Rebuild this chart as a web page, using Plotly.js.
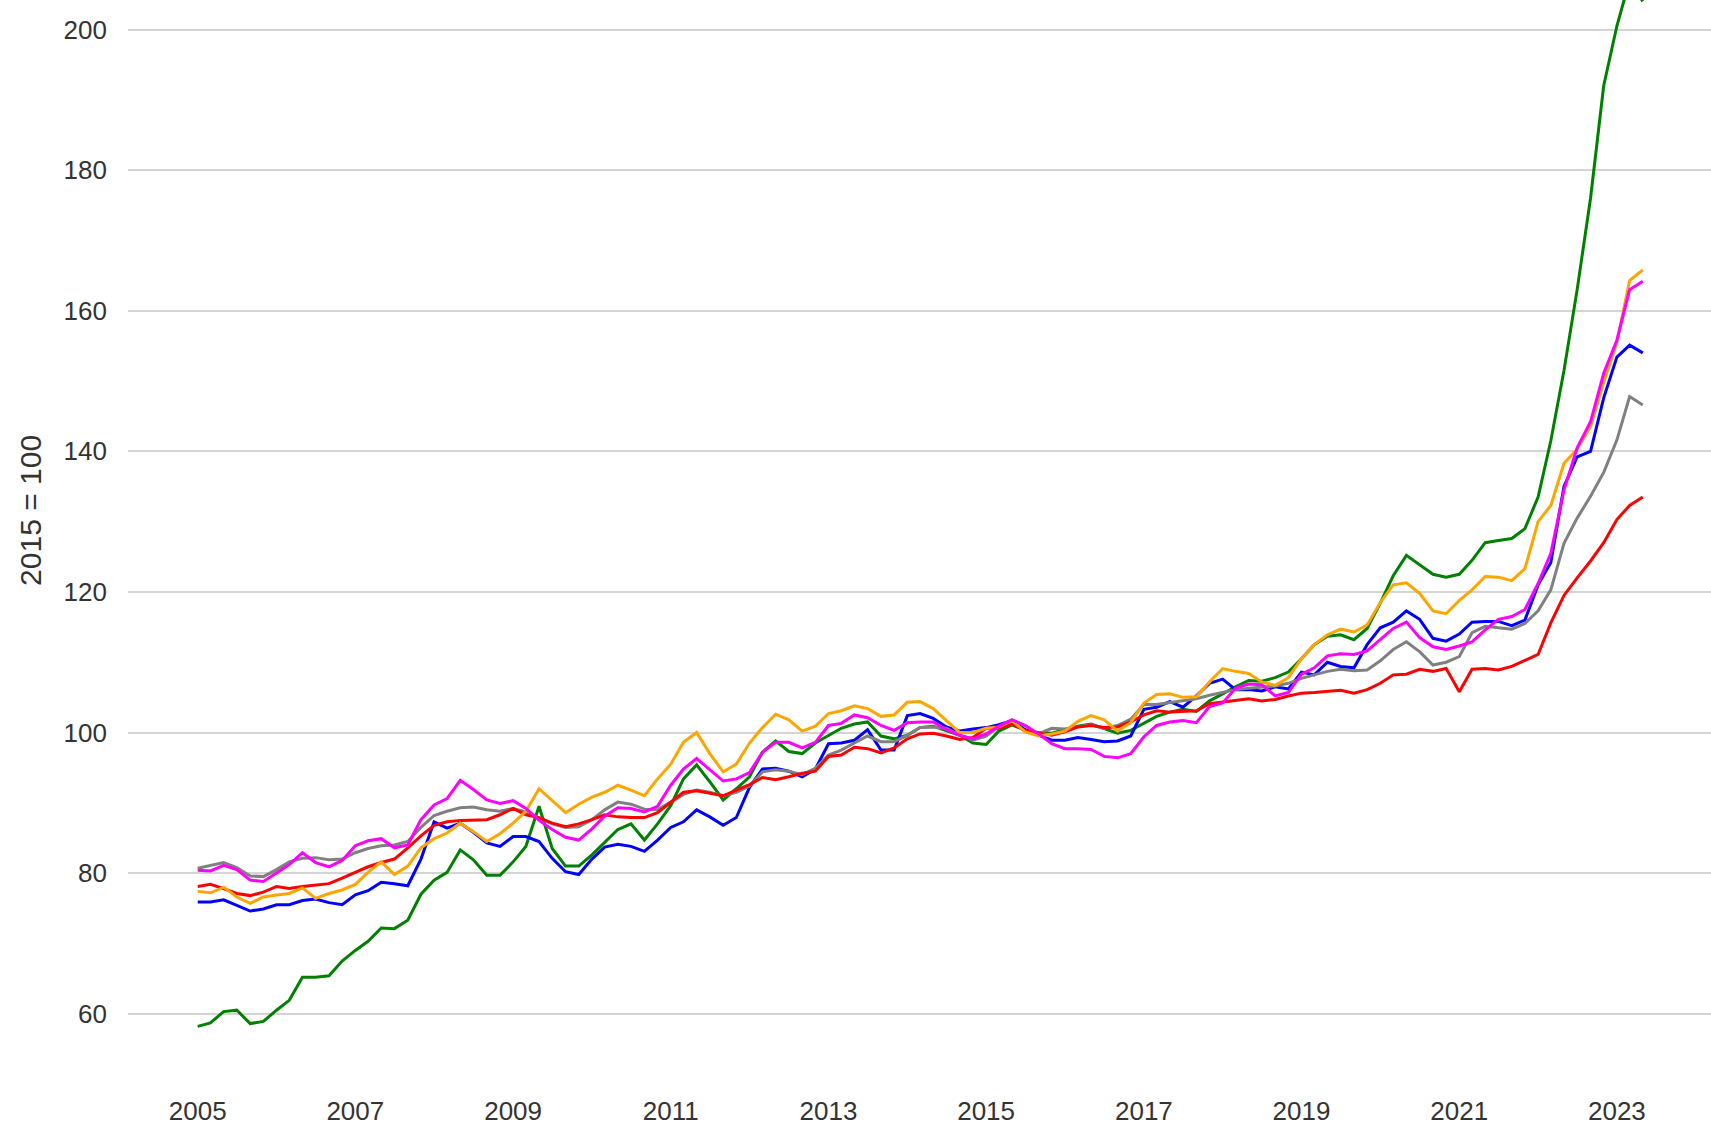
<!DOCTYPE html>
<html>
<head>
<meta charset="utf-8">
<script src="https://cdn.plot.ly/plotly-3.0.1.min.js"></script>
<style>
  html, body { margin: 0; padding: 0; background: #ffffff; }
  #chart { width: 1711px; height: 1127px; }
</style>
</head>
<body>
<div id="chart"></div>
<script>
// ---- Data (2015 = 100), bi-monthly readings Jan 2005 .. May 2023 ----
const years = [2005,2006,2007,2008,2009,2010,2011,2012,2013,2014,2015,2016,2017,2018,2019,2020,2021,2022,2023];
const months = ['01','03','05','07','09','11'];
const lastMonth = '2023-05';

const green = [
  58.2,58.7,60.3,60.5,58.6,58.9,
  60.5,61.9,65.2,65.2,65.4,67.5,
  69.0,70.3,72.2,72.1,73.3,77.0,
  79.0,80.1,83.3,81.9,79.7,79.7,
  81.6,83.8,89.5,83.5,81.0,81.0,
  82.6,84.3,86.2,87.0,84.7,87.0,
  89.6,93.4,95.4,93.0,90.4,92.0,
  93.7,97.2,98.8,97.3,97.0,98.5,
  99.6,100.6,101.2,101.5,99.5,99.1,
  99.6,100.7,100.9,100.2,99.6,98.5,
  98.3,100.2,101.1,100.3,100.0,99.9,
  100.4,100.9,101.2,100.6,99.9,100.3,
  101.3,102.3,102.9,103.3,103.0,104.5,
  105.5,106.5,107.4,107.3,107.8,108.6,
  110.5,112.5,113.7,113.9,113.2,114.8,
  118.4,122.3,125.2,123.9,122.5,122.1,
  122.5,124.5,127.0,127.3,127.6,129.0,
  133.5,141.5,151.5,163.0,176.0,192.0,
  200.5,207.0,204.0
];
const orange = [
  77.4,77.2,78.0,76.6,75.7,76.6,
  76.9,77.1,77.9,76.4,77.1,77.6,
  78.4,80.1,81.6,79.8,81.0,83.6,
  84.9,85.7,87.1,85.9,84.5,85.6,
  87.1,88.8,92.0,90.3,88.6,89.8,
  90.8,91.5,92.5,91.8,91.0,93.4,
  95.5,98.6,100.0,97.0,94.4,95.5,
  98.5,100.7,102.6,101.8,100.2,100.9,
  102.7,103.1,103.8,103.4,102.3,102.5,
  104.3,104.4,103.4,101.7,100.0,100.0,
  100.6,100.8,101.7,100.1,99.5,99.8,
  100.2,101.6,102.4,101.8,100.2,101.4,
  104.2,105.4,105.5,105.0,105.1,107.2,
  109.1,108.7,108.4,107.2,106.7,107.8,
  110.5,112.5,113.9,114.7,114.3,115.3,
  118.5,121.0,121.3,119.8,117.3,116.9,
  118.8,120.3,122.2,122.1,121.6,123.3,
  130.0,132.3,138.3,140.3,143.5,149.8,
  155.5,164.3,165.8
];
const magenta = [
  80.4,80.3,81.1,80.5,79.0,78.8,
  80.0,81.2,82.9,81.5,80.9,81.8,
  83.9,84.6,84.9,83.6,84.0,87.6,
  89.7,90.6,93.2,91.9,90.4,89.9,
  90.3,89.2,87.5,86.2,85.1,84.7,
  86.3,88.1,89.3,89.2,88.7,89.5,
  92.5,94.8,96.3,94.7,93.1,93.4,
  94.3,97.2,98.6,98.6,97.8,98.6,
  101.0,101.3,102.5,102.1,101.0,100.3,
  101.4,101.5,101.5,100.4,99.6,99.1,
  99.8,100.9,101.8,101.0,99.8,98.4,
  97.7,97.7,97.6,96.6,96.4,97.0,
  99.4,101.0,101.5,101.7,101.4,103.7,
  104.2,106.3,106.9,106.8,105.2,105.7,
  108.3,109.2,110.9,111.2,111.1,111.6,
  113.2,114.8,115.7,113.5,112.2,111.8,
  112.3,112.9,114.6,116.1,116.5,117.5,
  121.2,125.5,134.5,140.5,144.2,151.1,
  155.8,163.0,164.2
];
const blue = [
  75.9,75.9,76.2,75.4,74.6,74.9,
  75.5,75.5,76.1,76.3,75.8,75.5,
  76.9,77.5,78.7,78.5,78.2,82.0,
  87.3,86.4,87.1,85.8,84.3,83.8,
  85.2,85.2,84.5,82.1,80.2,79.8,
  82.0,83.7,84.1,83.8,83.1,84.7,
  86.5,87.3,89.0,88.0,86.8,87.9,
  92.2,94.8,94.9,94.5,93.7,94.8,
  98.4,98.5,98.9,100.4,97.5,97.5,
  102.4,102.7,102.0,100.8,100.2,100.5,
  100.7,101.1,101.7,100.4,99.6,98.9,
  98.9,99.3,99.0,98.7,98.8,99.5,
  103.3,103.6,104.4,103.6,105.2,107.0,
  107.6,106.1,106.1,105.9,106.5,106.2,
  108.6,108.2,110.0,109.4,109.2,112.5,
  114.9,115.7,117.3,116.1,113.4,113.0,
  114.0,115.7,115.8,115.8,115.2,116.0,
  121.0,124.2,135.0,139.2,140.0,147.6,
  153.4,155.1,154.0
];
const gray = [
  80.7,81.1,81.5,80.8,79.6,79.5,
  80.5,81.6,82.1,82.2,81.9,82.0,
  82.9,83.5,83.9,84.0,84.5,86.5,
  88.2,88.8,89.3,89.4,89.0,88.8,
  89.2,88.7,87.8,87.0,86.5,86.6,
  87.6,89.0,90.1,89.8,89.1,89.0,
  90.1,91.2,91.8,91.5,91.0,91.5,
  92.4,94.4,94.7,94.5,94.0,94.9,
  96.8,97.5,98.5,99.5,98.7,98.7,
  99.6,100.7,100.8,100.6,99.6,98.9,
  99.5,100.8,101.8,101.0,99.8,100.6,
  100.5,100.8,101.1,100.6,101.0,101.9,
  104.0,104.0,104.3,104.6,104.8,105.3,
  105.7,106.1,106.3,106.4,106.6,107.0,
  107.7,108.2,108.7,109.0,108.8,108.9,
  110.2,111.8,112.9,111.5,109.6,110.0,
  110.8,114.2,115.1,114.9,114.7,115.5,
  117.3,120.3,126.9,130.5,133.6,137.0,
  141.6,147.8,146.6
];
const red = [
  78.1,78.4,77.8,77.1,76.8,77.3,
  78.1,77.8,78.1,78.3,78.5,79.3,
  80.1,80.9,81.5,82.0,83.6,85.3,
  86.8,87.3,87.5,87.5,87.6,88.3,
  89.2,88.3,87.9,87.1,86.6,87.0,
  87.6,88.3,88.0,87.9,87.9,88.6,
  90.1,91.5,91.7,91.3,91.0,91.8,
  92.6,93.6,93.3,93.7,94.2,94.5,
  96.6,96.8,97.9,97.7,97.1,97.8,
  99.1,99.8,99.9,99.5,99.0,99.3,
  100.6,100.6,101.2,100.3,99.9,99.6,
  100.1,100.8,101.0,100.7,100.8,101.5,
  102.5,103.1,102.9,103.0,103.1,104.1,
  104.3,104.5,104.8,104.5,104.7,105.2,
  105.6,105.7,105.9,106.0,105.6,106.1,
  107.0,108.2,108.3,109.0,108.7,109.1,
  105.8,109.0,109.1,108.9,109.4,110.3,
  111.1,115.6,119.5,122.0,124.4,127.0,
  130.3,132.3,133.5
];

const yTicks = [60, 80, 100, 120, 140, 160, 180, 200];
const xTickYears = ['2005','2007','2009','2011','2013','2015','2017','2019','2021','2023'];
const yTitle = '2015 = 100';

// ---- Build date categories ----
const dates = [];
for (const y of years) {
  for (const m of months) {
    const ym = y + '-' + m;
    if (ym <= lastMonth) dates.push(ym + '-01');
  }
}

const seriesList = [
  { y: green,   color: '#008000' },
  { y: blue,    color: '#0000ff' },
  { y: gray,    color: '#808080' },
  { y: red,     color: '#ff0000' },
  { y: orange,  color: '#ffa500' },
  { y: magenta, color: '#ff00ff' }
];

const traces = seriesList.map(s => ({
  type: 'scatter',
  mode: 'lines',
  x: dates,
  y: s.y,
  line: { color: s.color, width: 3 },
  hoverinfo: 'skip'
}));

const layout = {
  width: 1711,
  height: 1127,
  margin: { l: 128, r: 0, t: 0, b: 34, pad: 0 },
  paper_bgcolor: '#ffffff',
  plot_bgcolor: '#ffffff',
  showlegend: false,
  font: { family: '"Liberation Sans", Arial, sans-serif', color: '#333333', size: 26 },
  xaxis: {
    type: 'date',
    range: ['2004-02-13', '2024-03-12'],
    tickvals: xTickYears.map(y => y + '-01-01'),
    ticktext: xTickYears,
    showgrid: false,
    zeroline: false,
    showline: false,
    ticks: '',
    tickfont: { size: 26, color: '#333333' },
    ticklabelstandoff: 0
  },
  yaxis: {
    range: [48.72, 204.2],
    tickvals: yTicks,
    ticktext: yTicks.map(String),
    showgrid: true,
    gridcolor: '#d4d4d4',
    gridwidth: 2,
    zeroline: false,
    showline: false,
    ticks: '',
    tickfont: { size: 26, color: '#333333' },
    ticklabelstandoff: 20
  },
  annotations: [{
    text: yTitle,
    xref: 'paper', yref: 'paper',
    x: -0.0616, y: 0.533,
    xanchor: 'center', yanchor: 'middle',
    textangle: -90,
    showarrow: false,
    font: { size: 30, color: '#333333' }
  }]
};

Plotly.newPlot('chart', traces, layout, { displayModeBar: false, staticPlot: true });
</script>
</body>
</html>
